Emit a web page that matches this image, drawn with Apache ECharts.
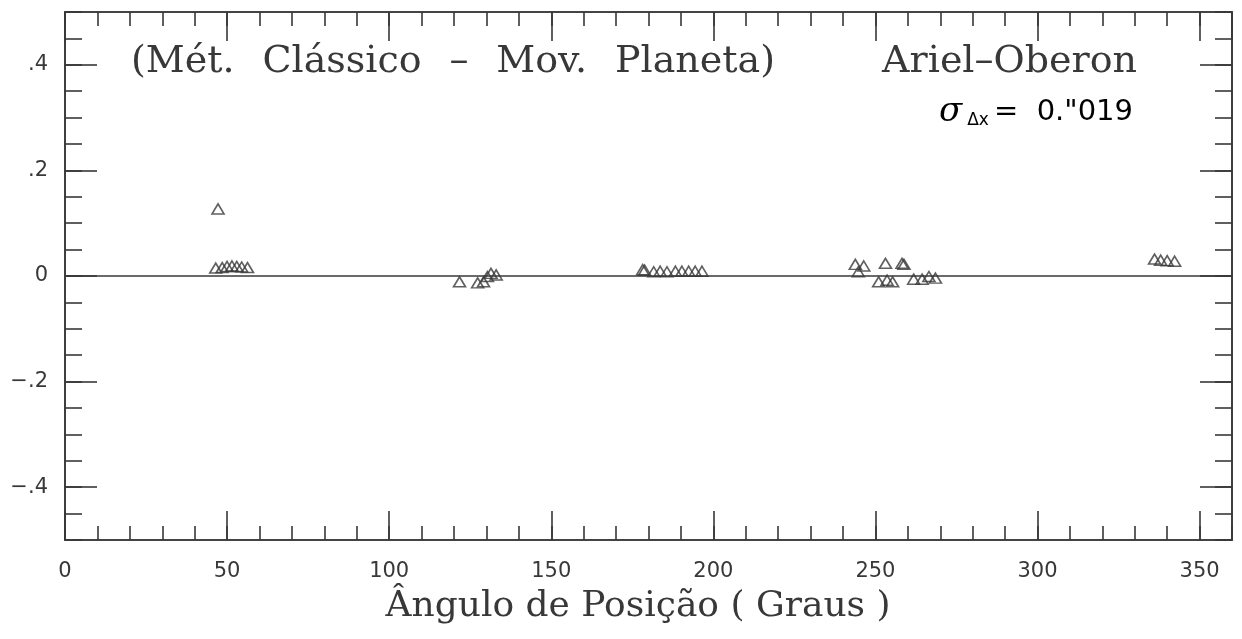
<!DOCTYPE html>
<html><head><meta charset="utf-8">
<script src="https://cdn.jsdelivr.net/npm/echarts@6/dist/echarts.min.js"></script>
<style>html,body{margin:0;padding:0;background:#fff}#c{width:1242px;height:639px}</style>
</head><body><div id="c"></div>
<script>
// ---- data ----
const xTickLabels = ['0','50','100','150','200','250','300','350'];
const yMajorTicks = [-0.4,-0.2,0,0.2,0.4];
const yTickLabels = ['−.4','−.2','0','.2','.4'];
const angle = [47.2,
  46.5,48.5,50,51.5,53,54.5,56.3,
  121.7,127.3,129.1,130.3,131.4,133,
  178.2,178.8,181.6,183.6,185.7,188.3,190.3,192.4,194.4,196.5,
  243.8,246.4,244.7,253.1,258.2,258.8,251,253.6,255.3,261.8,264.4,266.5,268.5,
  336.1,338,340,342.3];
const residual = [0.127,
  0.015,0.016,0.018,0.019,0.018,0.017,0.016,
  -0.011,-0.013,-0.011,-0.001,0.005,0.002,
  0.012,0.011,0.008,0.009,0.008,0.009,0.009,0.009,0.009,0.009,
  0.022,0.019,0.008,0.024,0.024,0.022,-0.011,-0.008,-0.011,-0.006,-0.006,-0.001,-0.004,
  0.032,0.030,0.029,0.028];
const titleWords = ['(Mét.', 'Clássico', '–', 'Mov.', 'Planeta)'];
const titleRight = 'Ariel–Oberon';
const xName = 'Ângulo de Posição ( Graus )';

// ---- chart ----
const ink = '#383838';
const lineStyle = {color: ink, width: 1.6};
const serif = '"DejaVu Serif", serif';
const sans = '"DejaVu Sans", sans-serif';
function xAx(pos, interval, len, labels) {
  return {type:'value', min:0, max:360, interval, position:pos, gridIndex:0,
    axisLine:{show:true, onZero:false, lineStyle},
    axisTick:{show:true, inside:true, length:len, lineStyle},
    axisLabel:{show:labels, margin:21, showMaxLabel:false, color:ink, fontFamily:sans, fontSize:21,
      formatter: v => xTickLabels[Math.round(v/50)] ?? ''},
    splitLine:{show:false}};
}
function yAx(pos, minor, len, labels) {
  const a = {type:'value', min:-0.5, max:0.5, position:pos, gridIndex:0,
    axisLine:{show:true, onZero:false, lineStyle},
    axisTick:{show:true, inside:true, length:len, lineStyle},
    axisLabel:{show:labels, margin:17, color:ink, fontFamily:sans, fontSize:21,
      formatter: v => { const i = yMajorTicks.findIndex(t => Math.abs(t - v) < 1e-6); return i >= 0 ? yTickLabels[i] : ''; }},
    splitLine:{show:false}};
  if (minor) a.interval = 0.05;
  else { a.axisTick.customValues = yMajorTicks; a.axisLabel.customValues = yMajorTicks; }
  return a;
}
// lay out title words evenly between a start and end x
const titleFont = '38px ' + serif;
const ctx = document.createElement('canvas').getContext('2d');
ctx.font = titleFont;
const widths = titleWords.map(w => ctx.measureText(w).width);
const tStart = 131, tEnd = 775;
const gap = (tEnd - tStart - widths.reduce((a,b)=>a+b,0)) / (titleWords.length - 1);
const titleX = [];
let cx = tStart;
widths.forEach(w => { titleX.push(cx); cx += w + gap; });

const chart = echarts.init(document.getElementById('c'));
chart.setOption({
  animation:false,
  backgroundColor:'#fff',
  grid:{left:65, right:10, top:12, bottom:99},
  xAxis:[xAx('bottom',10,14,false), xAx('bottom',50,29,true), xAx('top',10,14,false), xAx('top',50,29,false)],
  yAxis:[yAx('left',true,17,false), yAx('left',false,32,true), yAx('right',true,17,false), yAx('right',false,32,false)],
  series:[{
    type:'scatter', xAxisIndex:0, yAxisIndex:0,
    data: angle.map((a,i)=>[a, residual[i]]),
    symbol:'triangle', symbolSize:[12,10],
    itemStyle:{color:'rgba(255,255,255,0)', borderColor:ink, borderWidth:1.6},
    markLine:{silent:true, symbol:'none', label:{show:false},
      lineStyle:{color:ink, width:1.6, type:'solid'}, data:[{yAxis:0}]}
  }],
  graphic: titleWords.map((w,i)=>({type:'text', x:titleX[i], y:62,
      style:{text:w, font:titleFont, fill:ink, textVerticalAlign:'middle'}})).concat([
    {type:'text', x:1137, y:62, style:{text:titleRight, font:titleFont, fill:ink, textAlign:'right', textVerticalAlign:'middle'}},
    {type:'text', x:1133, y:112, style:{
      text:'{s|σ}{sub|Δx}{n|=  0."019}', textAlign:'right', textVerticalAlign:'middle',
      rich:{s:{fontFamily:serif, fontSize:34, fontStyle:'italic', color:ink, padding:[0,3,0,0]},
            sub:{fontFamily:sans, fontSize:17, color:ink, verticalAlign:'bottom', padding:[14,5,0,2]},
            n:{fontFamily:sans, fontSize:29, color:ink}}}},
    {type:'text', x:638, y:607, style:{text:xName, font:'36px '+serif, fill:ink, textAlign:'center', textVerticalAlign:'middle'}}
  ])
});
</script></body></html>
